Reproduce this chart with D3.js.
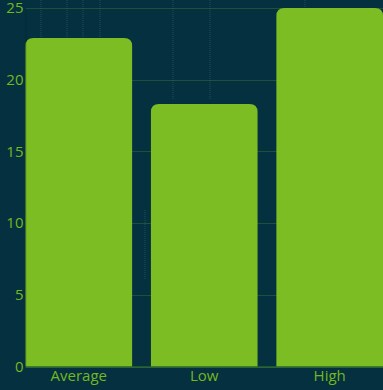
<!DOCTYPE html>
<html>
<head>
<meta charset="utf-8">
<script src="https://cdn.jsdelivr.net/npm/d3@7"></script>
<style>
  html, body { margin: 0; padding: 0; background: #05303f; }
  svg { display: block; }
</style>
</head>
<body>
<svg id="chart" width="383" height="390"></svg>
<script>
// Values per category
const categories = ["Average", "Low", "High"];
const values = [22.9, 18.3, 25.0];
const yTicks = [0, 5, 10, 15, 20, 25];
// faint vertical streaks of the background texture (x, top, bottom) in px
const streakX = [41, 67, 83, 100, 173, 210, 145, 305];
const streakTop = [0, 0, 0, 0, 0, 0, 210, 0];
const streakBottom = [40, 40, 40, 40, 100, 100, 280, 12];

const width = 383, height = 390;
const margin = { top: 8, right: 0, bottom: 23.5, left: 25.5 };
const barColor = "#7bbd22";
const textColor = "#74b71f";
const bg = "#05303f";
const font = "'Open Sans', 'Noto Sans', sans-serif";

const svg = d3.select("#chart");
svg.append("rect").attr("width", width).attr("height", height).attr("fill", bg);

// background texture
svg.append("g")
  .selectAll("line")
  .data(streakX.map((sx, i) => ({ sx, t: streakTop[i], b: streakBottom[i] })))
  .join("line")
  .attr("x1", d => d.sx).attr("x2", d => d.sx)
  .attr("y1", d => d.t).attr("y2", d => d.b)
  .attr("stroke", "#8fb6c0")
  .attr("stroke-opacity", 0.1)
  .attr("stroke-width", 2)
  .attr("stroke-dasharray", "1 1");

const x = d3.scaleBand()
  .domain(categories)
  .range([margin.left, width - margin.right])
  .paddingInner(0.15)
  .paddingOuter(0);

const y = d3.scaleLinear()
  .domain([0, 25])
  .range([height - margin.bottom, margin.top]);

// horizontal grid
svg.append("g")
  .selectAll("line")
  .data(yTicks)
  .join("line")
  .attr("x1", margin.left)
  .attr("x2", width)
  .attr("y1", d => Math.round(y(d)) + 0.5)
  .attr("y2", d => Math.round(y(d)) + 0.5)
  .attr("stroke", "#3c7a34")
  .attr("stroke-opacity", 0.45)
  .attr("stroke-width", 1);

// bars with rounded top corners
const r = 8;
function barPath(x0, w, yTop, yBase) {
  const rr = Math.min(r, w / 2, yBase - yTop);
  return `M${x0},${yBase}V${yTop + rr}Q${x0},${yTop} ${x0 + rr},${yTop}` +
         `H${x0 + w - rr}Q${x0 + w},${yTop} ${x0 + w},${yTop + rr}V${yBase}Z`;
}

svg.append("g")
  .selectAll("path")
  .data(categories.map((c, i) => ({ c, v: values[i] })))
  .join("path")
  .attr("d", d => barPath(x(d.c), x.bandwidth(), y(d.v), y(0)))
  .attr("fill", barColor);

// axes
const yAxis = d3.axisLeft(y).tickValues(yTicks).tickSize(0).tickPadding(2);
const gy = svg.append("g")
  .attr("transform", `translate(${margin.left},0)`)
  .call(yAxis);
gy.select(".domain").attr("stroke", "#000").attr("stroke-opacity", 0.15).attr("stroke-width", 1);
gy.selectAll("text")
  .attr("fill", textColor)
  .attr("font-family", font)
  .attr("font-size", 15);

const xAxis = d3.axisBottom(x).tickSize(0).tickPadding(4);
const gx = svg.append("g")
  .attr("transform", `translate(0,${y(0)})`)
  .call(xAxis);
gx.select(".domain").attr("stroke", "#3a7a2a").attr("stroke-width", 1);
gx.selectAll("text")
  .attr("fill", textColor)
  .attr("font-family", font)
  .attr("font-size", 15);
</script>
</body>
</html>
